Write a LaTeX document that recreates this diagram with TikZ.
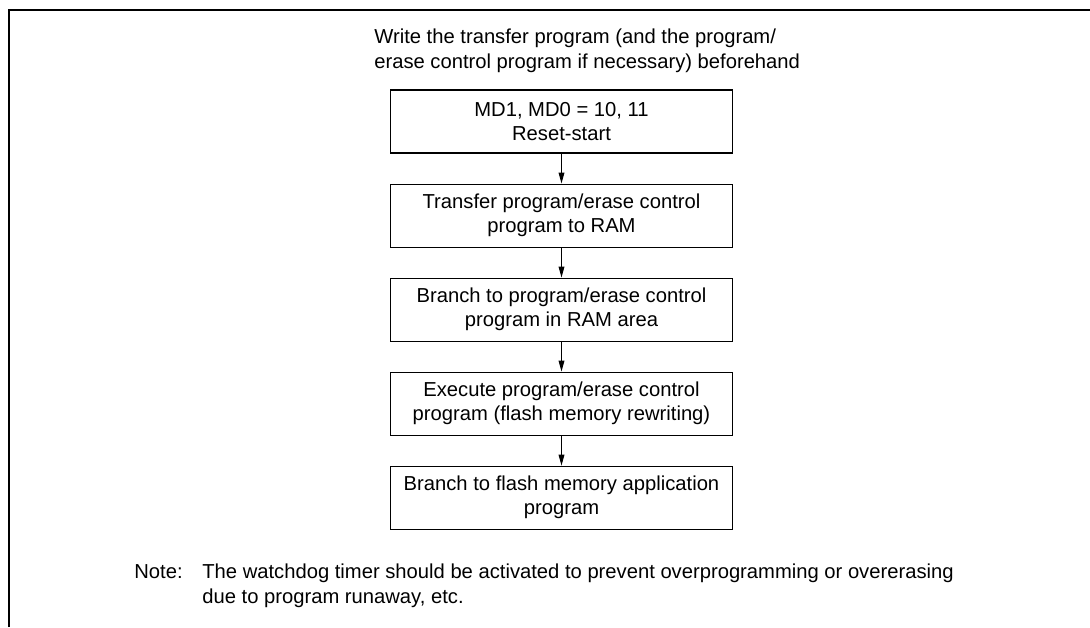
\documentclass[tikz,border=0pt]{standalone}
\usepackage{fontspec}
\setmainfont{Liberation Sans}
\usepackage{tikz}
\usetikzlibrary{arrows.meta, positioning}
\tikzset{
  stepbox/.style={rectangle,draw=black,line width=0.6pt,align=center,
    minimum width=6.86cm,minimum height=1.26cm,inner sep=2pt,
    font=\fontsize{11.5}{13.6}\selectfont},
  plaintext/.style={align=left,inner sep=0pt,font=\fontsize{11.5}{14.2}\selectfont},
  arr/.style={-{Triangle[length=2.2mm,width=1.15mm]},line width=0.6pt,color=black},
  frameline/.style={line width=1.1pt,color=black}
}
\begin{document}
\begin{tikzpicture}[x=0.02cm,y=-0.02cm,node distance=0.6cm]
  \useasboundingbox (0,0) rectangle (1090,627);
  % frame
  \coordinate (fl) at (9,627);
  \coordinate (fc) at (9,10);
  \coordinate (fr) at (1090,10);
  \draw[frameline] (fl) -- (fc) -- (fr);
  % heading (anchored on its last line)
  \node[plaintext,anchor=base west] (head) at (374,68)
    {Write the transfer program (and the program/\\erase control program if necessary) beforehand};
  % steps
  \node[stepbox] (reset) at (561.5,121.5) {MD1, MD0 = 10, 11\\Reset-start};
  \node[stepbox,below=of reset] (xfer) {Transfer program/erase control\\program to RAM};
  \node[stepbox,below=of xfer] (branch) {Branch to program/erase control\\program in RAM area};
  \node[stepbox,below=of branch] (exec) {Execute program/erase control\\program (flash memory rewriting)};
  \node[stepbox,below=of exec] (app) {Branch to flash memory application\\program};
  \draw[arr] (reset) -- (xfer);
  \draw[arr] (xfer) -- (branch);
  \draw[arr] (branch) -- (exec);
  \draw[arr] (exec) -- (app);
  % note
  \node[plaintext,anchor=base west] (notelbl) at (134,578) {Note:};
  \node[plaintext,anchor=base west] (notetxt) at (202,603)
    {The watchdog timer should be activated to prevent overprogramming or overerasing\\due to program runaway, etc.};
\end{tikzpicture}
\end{document}
